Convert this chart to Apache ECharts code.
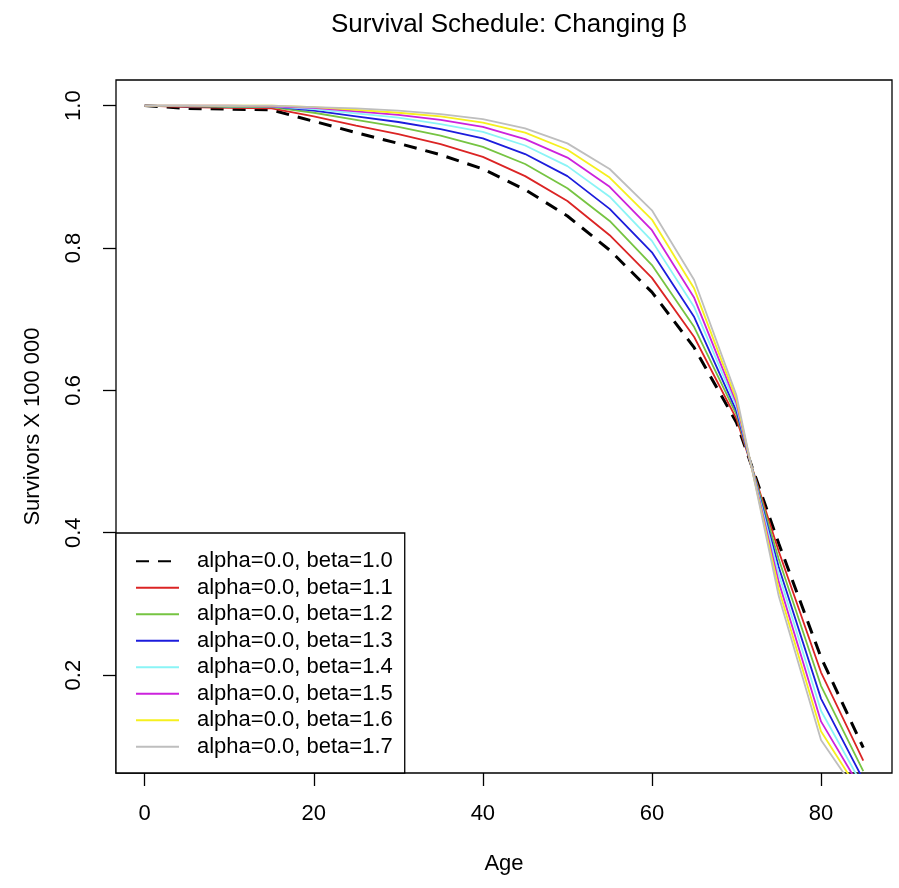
<!DOCTYPE html>
<html>
<head>
<meta charset="utf-8">
<script src="https://cdn.jsdelivr.net/npm/echarts@6/dist/echarts.min.js"></script>
<style>
html,body{margin:0;padding:0;background:#fff;}
#chart{width:899px;height:888px;}
</style>
</head>
<body>
<div id="chart"></div>
<script>
// ---- data ----
var ages = [0, 5, 10, 15, 20, 25, 30, 35, 40, 45, 50, 55, 60, 65, 70, 75, 80, 85];
var beta10 = [1.0, 0.996, 0.995, 0.994, 0.978, 0.962, 0.947, 0.931, 0.911, 0.882, 0.845, 0.797, 0.738, 0.660, 0.555, 0.385, 0.225, 0.098];
var beta11 = [1.0, 0.998, 0.997, 0.996, 0.985, 0.972, 0.960, 0.946, 0.928, 0.901, 0.866, 0.818, 0.758, 0.675, 0.560, 0.374, 0.204, 0.080];
var beta12 = [1.0, 0.999, 0.998, 0.998, 0.990, 0.980, 0.970, 0.958, 0.942, 0.918, 0.884, 0.838, 0.776, 0.689, 0.566, 0.363, 0.185, 0.065];
var beta13 = [1.0, 0.999, 0.999, 0.999, 0.993, 0.985, 0.977, 0.967, 0.954, 0.932, 0.901, 0.855, 0.794, 0.703, 0.571, 0.352, 0.167, 0.053];
var beta14 = [1.0, 1.0, 0.999, 0.999, 0.995, 0.989, 0.983, 0.974, 0.963, 0.944, 0.915, 0.872, 0.810, 0.717, 0.577, 0.342, 0.150, 0.043];
var beta15 = [1.0, 1.0, 1.0, 0.999, 0.997, 0.992, 0.987, 0.980, 0.970, 0.953, 0.927, 0.886, 0.825, 0.730, 0.582, 0.331, 0.135, 0.035];
var beta16 = [1.0, 1.0, 1.0, 1.0, 0.998, 0.994, 0.990, 0.985, 0.976, 0.962, 0.938, 0.899, 0.840, 0.743, 0.587, 0.321, 0.121, 0.028];
var beta17 = [1.0, 1.0, 1.0, 1.0, 0.998, 0.996, 0.993, 0.988, 0.981, 0.968, 0.947, 0.911, 0.853, 0.755, 0.593, 0.311, 0.109, 0.022];
var seriesNames = ['alpha=0.0, beta=1.0', 'alpha=0.0, beta=1.1', 'alpha=0.0, beta=1.2', 'alpha=0.0, beta=1.3',
                   'alpha=0.0, beta=1.4', 'alpha=0.0, beta=1.5', 'alpha=0.0, beta=1.6', 'alpha=0.0, beta=1.7'];
var xTicks = [0, 20, 40, 60, 80];
var yTicks = [0.2, 0.4, 0.6, 0.8, 1.0];
var titleText = 'Survival Schedule: Changing \u03B2';
var xTitle = 'Age';
var yTitle = 'Survivors X 100 000';

// ---- styling ----
var allValues = [beta10, beta11, beta12, beta13, beta14, beta15, beta16, beta17];
var colors = ['#000000', '#DB2424', '#76C442', '#1C1CDC', '#8AF4F6', '#CC22DD', '#F6F01E', '#BEBEBE'];
var FONT = '"Liberation Sans", Arial, Helvetica, sans-serif';

function pairs(vals) {
  return ages.map(function (a, i) { return [a, vals[i]]; });
}

var series = allValues.map(function (vals, k) {
  return {
    name: seriesNames[k],
    type: 'line',
    data: pairs(vals),
    symbol: 'none',
    clip: true,
    silent: true,
    animation: false,
    lineStyle: k === 0
      ? { color: colors[k], width: 3, type: [13, 9], cap: 'butt' }
      : { color: colors[k], width: 1.8 },
    itemStyle: { color: colors[k] },
    z: 2 + k
  };
});

var chart = echarts.init(document.getElementById('chart'), null, { renderer: 'canvas' });
chart.setOption({
  backgroundColor: '#ffffff',
  animation: false,
  title: {
    text: titleText,
    left: 504,
    top: 7,
    textAlign: 'center',
    textStyle: { fontFamily: FONT, fontSize: 26, fontWeight: 'normal', color: '#000' }
  },
  grid: {
    left: 116, right: 7, top: 80, bottom: 115,
    show: true, borderColor: '#000', borderWidth: 1.3, backgroundColor: 'transparent'
  },
  legend: {
    orient: 'vertical',
    left: 116,
    bottom: 115,
    data: seriesNames,
    itemWidth: 43,
    itemHeight: 14,
    itemGap: 0,
    padding: [15, 12, 13, 19],
    borderColor: '#000',
    borderWidth: 1.3,
    backgroundColor: '#fff',
    selectedMode: false,
    itemStyle: { opacity: 0, borderWidth: 0 },
    textStyle: { fontFamily: FONT, fontSize: 22, color: '#000', lineHeight: 26.5, padding: [0, 0, 0, 13] }
  },
  xAxis: {
    type: 'value',
    min: -3.4,
    max: 88.4,
    name: xTitle,
    nameLocation: 'middle',
    nameGap: 80,
    nameTextStyle: { fontFamily: FONT, fontSize: 22, color: '#000' },
    splitLine: { show: false },
    axisLine: { show: false, onZero: false },
    axisTick: { show: true, inside: false, length: 13, customValues: xTicks, lineStyle: { color: '#000', width: 1.3 } },
    axisLabel: { customValues: xTicks, margin: 30, fontFamily: FONT, fontSize: 22, color: '#000',
                 formatter: function (v) { return String(v); } }
  },
  yAxis: {
    type: 'value',
    min: 0.0625,
    max: 1.036,
    name: yTitle,
    nameLocation: 'middle',
    nameGap: 72,
    nameTextStyle: { fontFamily: FONT, fontSize: 22, color: '#000' },
    splitLine: { show: false },
    axisLine: { show: false, onZero: false },
    axisTick: { show: true, inside: false, length: 13, customValues: yTicks, lineStyle: { color: '#000', width: 1.3 } },
    axisLabel: { customValues: yTicks, rotate: 90, margin: 31, fontFamily: FONT, fontSize: 22, color: '#000',
                 formatter: function (v) { return v.toFixed(1); } }
  },
  series: series
});
</script>
</body>
</html>
